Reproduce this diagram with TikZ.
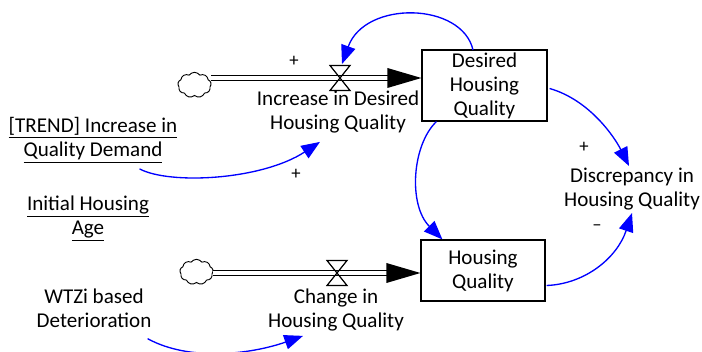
\documentclass[tikz,border=0pt]{standalone}
\usepackage{fontspec}
\setmainfont{Carlito}
\usetikzlibrary{calc,arrows.meta,shapes.symbols}
\begin{document}
\begin{tikzpicture}[x=0.75pt,y=0.75pt,
  lbl/.style={align=center,font=\fontsize{15.8}{18}\selectfont,inner sep=0pt},
  stockbox/.style={draw,line width=0.9pt,align=center,font=\fontsize{15.8}{18}\selectfont,inner sep=0pt},
  sign/.style={font=\fontsize{14}{16}\selectfont,inner sep=0pt},
  link/.style={draw={rgb,255:red,0;green,0;blue,255},line width=1pt,-{Triangle[length=14pt,width=11pt]}},
  pipe/.style={double,line width=0.95pt,double distance=2.8pt},
  cloudnode/.style={cloud,cloud puffs=9,cloud puff arc=110,draw,line width=0.7pt,minimum width=25pt,minimum height=19pt,inner sep=0pt,aspect=1.35},
  valveline/.style={line width=0.9pt}
]
\useasboundingbox (0,0) rectangle (702,-352);

% stocks
\node[stockbox,minimum width=93.75pt,minimum height=53.25pt] (dhq) at (484.5,-85.5) {Desired\\Housing\\Quality};
\node[stockbox,minimum width=93pt,minimum height=45.75pt] (hq) at (483,-270.5) {Housing\\Quality};

% clouds
\node[cloudnode] (c1) at (194.5,-85) {};
\node[cloudnode] (c2) at (196.5,-272) {};

% valve centres
\coordinate (v1) at (340,-78);
\coordinate (v2) at (337,-273);

% pipes
\draw[pipe] (c1.east |- v1) -- ($(v1 -| dhq.west)+(-32,0)$);
\fill ($(v1 -| dhq.west)+(-34,10)$) -- (v1 -| dhq.west) -- ($(v1 -| dhq.west)+(-34,-10)$) -- cycle;
\draw[pipe] (c2.east |- v2) -- ($(v2 -| hq.west)+(-32,0)$);
\fill ($(v2 -| hq.west)+(-34,10)$) -- (v2 -| hq.west) -- ($(v2 -| hq.west)+(-34,-10)$) -- cycle;

% valves
\draw[valveline,fill=white] ($(v1)+(-10,12.5)$) -- ($(v1)+(10,12.5)$) -- ($(v1)+(-10,-12.5)$) -- ($(v1)+(10,-12.5)$) -- cycle;
\draw[valveline,fill=white] ($(v2)+(-10,12.5)$) -- ($(v2)+(10,12.5)$) -- ($(v2)+(-10,-12.5)$) -- ($(v2)+(10,-12.5)$) -- cycle;
\draw[line width=0.95pt] ($(v1)+(-10,2.5)$) -- ($(v1)+(10,2.5)$) ($(v1)+(-10,-2.5)$) -- ($(v1)+(10,-2.5)$);
\draw[line width=0.95pt] ($(v2)+(-10,2.5)$) -- ($(v2)+(10,2.5)$) ($(v2)+(-10,-2.5)$) -- ($(v2)+(10,-2.5)$);

% labels
\node[lbl] (idhq) at (338,-112.5) {Increase in Desired\\Housing Quality};
\node[lbl] (chq) at (336,-309.5) {Change in\\Housing Quality};
\node[lbl] (trend) at (93,-140) {\underline{[TREND] Increase in}\\\underline{Quality Demand}};
\node[lbl] (iha) at (88,-218.5) {\underline{Initial Housing}\\\underline{Age}};
\node[lbl] (wtzi) at (94,-308) {WTZi based\\Deterioration};
\node[lbl] (dis) at (632,-189.5) {Discrepancy in\\Housing Quality};

% links
\draw[link] (473,-50) .. controls (462,-2) and (365,0) .. ($(v1)+(2,14)$);
\draw[link] ($(trend.south east)+(-38,-6)$) .. controls (170,-185) and (262,-180) .. ($(idhq.south)+(-18,-8)$);
\draw[link] ($(dhq.east)+(2,-3)$) .. controls (590,-100) and (615,-138) .. (629,-166);
\draw[link] ($(dhq.south west)+(15,0)$) .. controls (412,-145) and (408,-205) .. ($(hq.north west)+(22,0)$);
\draw[link] ($(hq.east)+(1,-15)$) .. controls (585,-284) and (617,-258) .. (632,-213);
\draw[link] ($(wtzi.south east)+(-4,-11)$) .. controls (190,-362) and (252,-354) .. ($(chq.south)+(-33,-5)$);

% signs
\node[sign] at (294,-61) {+};
\node[sign] at (296,-174) {+};
\node[sign] at (584,-147) {+};
\node[sign] at (597,-228) {--};
\end{tikzpicture}
\end{document}
